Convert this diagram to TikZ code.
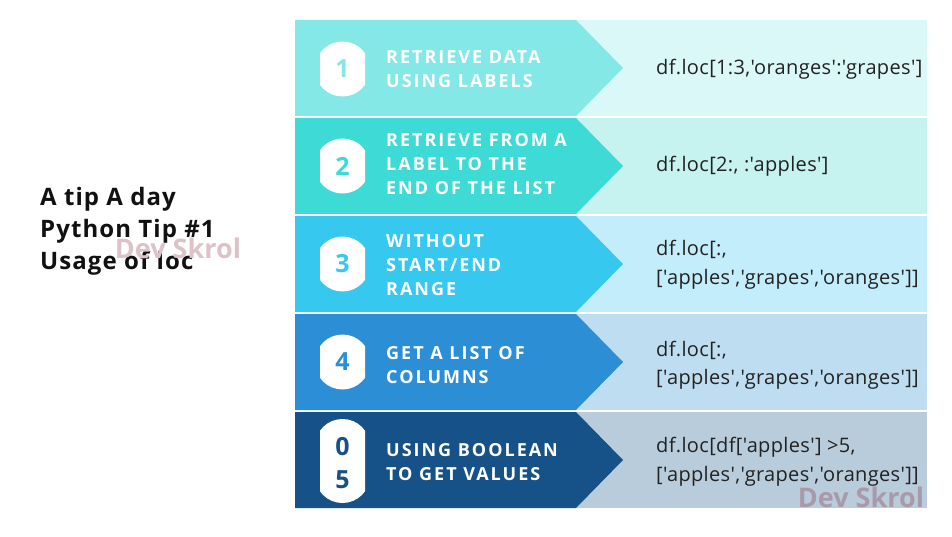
\documentclass[tikz,border=0pt]{standalone}
\usepackage{fontspec}
\setmainfont{Liberation Sans}
\newfontfamily\lblfont[LetterSpace=11]{Open Sans}
\newfontfamily\codefont[LetterSpace=1.7]{Open Sans}
\newfontfamily\titlefont[LetterSpace=4.5]{Open Sans}
\newfontfamily\numfont{Open Sans}
\definecolor{dA}{HTML}{84E8E6}\definecolor{lA}{HTML}{DAF8F8}
\definecolor{dB}{HTML}{3EDBD6}\definecolor{lB}{HTML}{C6F2EF}
\definecolor{dC}{HTML}{37C8F0}\definecolor{lC}{HTML}{C4EDFB}
\definecolor{dD}{HTML}{2C8FD6}\definecolor{lD}{HTML}{BEDDF0}
\definecolor{dE}{HTML}{165188}\definecolor{lE}{HTML}{B9CCDB}
\definecolor{codegray}{HTML}{222222}
\definecolor{titleblack}{HTML}{111111}
\definecolor{wmA}{HTML}{DCC3CA}
\definecolor{wmB}{HTML}{A99AAA}
\newcommand\tiprow[3]{%
  \fill[#3] (576,#1) rectangle (927,#1+96);
  \fill[#2] (295,#1) -- (576,#1) -- (623,#1+48) -- (576,#1+96) -- (295,#1+96) -- cycle;
}
\newcommand\roundbadge[1]{%
  \begin{scope}
    \clip (320,#1-30) rectangle (365,#1+30);
    \fill[white] (342.5,#1) circle[radius=27.5];
  \end{scope}
}
\begin{document}
\begin{tikzpicture}[x=1pt,y=-1pt,
  lbl/.style={anchor=west, text=white, font=\lblfont\bfseries\fontsize{18}{24}\selectfont, align=left, inner sep=0pt},
  code/.style={anchor=west, text=codegray, font=\codefont\fontsize{20}{28.5}\selectfont, align=left, inner sep=0pt},
  num/.style={font=\numfont\bfseries\fontsize{25}{33}\selectfont, inner sep=0pt},
  wm/.style={font=\numfont\bfseries\fontsize{27}{27}\selectfont, inner sep=0pt}]
\useasboundingbox (0,0) rectangle (952,537);
\fill[white] (0,0) rectangle (952,537);
\tiprow{20}{dA}{lA}
\tiprow{118}{dB}{lB}
\tiprow{216}{dC}{lC}
\tiprow{314}{dD}{lD}
\tiprow{412}{dE}{lE}
\roundbadge{69}
\roundbadge{166}
\roundbadge{264}
\roundbadge{362}
\begin{scope}
  \clip (320,415) rectangle (365,507);
  \fill[white, rounded corners=27.5pt] (315,419) rectangle (370,503);
\end{scope}
\node[num, text=dA] (n1) at (342.5,69) {1};
\node[num, text=dB] (n2) at (342.5,166) {2};
\node[num, text=dC] (n3) at (342.5,264) {3};
\node[num, text=dD] (n4) at (342.5,362) {4};
\node[num, text=dE] (n5a) at (342.5,447) {0};
\node[num, text=dE] (n5b) at (342.5,480) {5};
\node[lbl] (t1) at (386,69.5) {RETRIEVE DATA\\USING LABELS};
\node[lbl] (t2) at (386,164) {RETRIEVE FROM A\\LABEL TO THE\\END OF THE LIST};
\node[lbl] (t3) at (386,265.5) {WITHOUT\\START/END\\RANGE};
\node[lbl] (t4) at (386,365) {GET A LIST OF\\COLUMNS};
\node[lbl] (t5) at (386,462.5) {USING BOOLEAN\\TO GET VALUES};
\node[code] (c1) at (656,69) {df.loc[1:3,'oranges':'grapes']};
\node[code] (c2) at (656,166.7) {df.loc[2:, :'apples']};
\node[code] (c3) at (656,265) {df.loc[:,\\{}['apples','grapes','oranges']]};
\node[code] (c4) at (656,365) {df.loc[:,\\{}['apples','grapes','oranges']]};
\node[code] (c5) at (656,461.5) {df.loc[df['apples'] >5,\\{}['apples','grapes','oranges']]};
\node[anchor=west, align=left, inner sep=0pt, text=titleblack, font=\titlefont\bfseries\fontsize{24}{32}\selectfont] (title) at (40,231) {A tip A day\\Python Tip \#1\\Usage of loc};
\node[wm, text=wmA] (wm1) at (178,248) {Dev Skrol};
\node[wm, text=wmB] (wm2) at (861,497) {Dev Skrol};
\end{tikzpicture}
\end{document}
